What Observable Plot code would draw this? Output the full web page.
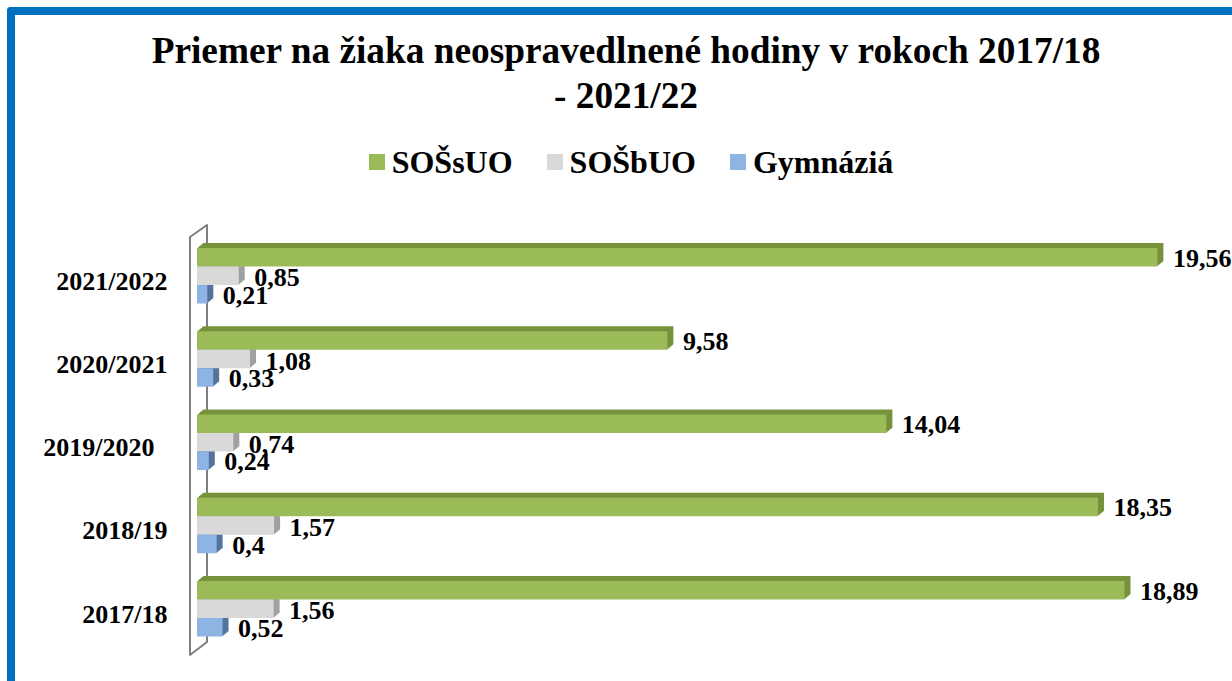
<!DOCTYPE html>
<html>
<head>
<meta charset="utf-8">
<script src="https://cdn.jsdelivr.net/npm/d3@7"></script>
<script src="https://cdn.jsdelivr.net/npm/@observablehq/plot@0.6"></script>
<style>
  html, body { margin: 0; padding: 0; background: #fff; width: 1232px; height: 681px; overflow: hidden; }
  body { position: relative; font-family: "Liberation Serif", "Times New Roman", serif; }
  #frame { position: absolute; left: 7px; top: 7px; width: 1300px; height: 720px; border-left: 8px solid #0070C0; border-top: 8px solid #0070C0; border-top-left-radius: 4px; }
  #title { position: absolute; left: 14px; width: 1224px; top: 28px; text-align: center; font-family: "Liberation Serif", "Times New Roman", serif; font-size: 37.3px; line-height: 45px; font-weight: bold; color: #000; }
  #legend { position: absolute; left: 20px; width: 1222px; top: 146px; height: 32px; display: flex; justify-content: center; align-items: center; font-family: "Liberation Serif", "Times New Roman", serif; font-size: 32px; line-height: 32px; font-weight: bold; color: #000; }
  .item { display: flex; align-items: center; margin: 0 17px; font-family: "Liberation Serif", "Times New Roman", serif; }
  .sw { width: 16px; height: 16px; margin-right: 7px; }
  #chart { position: absolute; left: 0; top: 200px; }
</style>
</head>
<body>
<div id="frame"></div>
<div id="title">Priemer na žiaka neospravedlnené hodiny v rokoch 2017/18<br>- 2021/22</div>
<div id="legend"></div>
<div id="chart"></div>
<script>
const years = ["2021/2022", "2020/2021", "2019/2020\u00a0\u00a0", "2018/19", "2017/18"];
const series = ["SOŠsUO", "SOŠbUO", "Gymnáziá"];
const sossuo = [19.56, 9.58, 14.04, 18.35, 18.89];
const sosbuo = [0.85, 1.08, 0.74, 1.57, 1.56];
const gymnazia = [0.21, 0.33, 0.24, 0.4, 0.52];

const frontColors = ["#9BBB59", "#D9D9D9", "#8DB4E2"];
const sideColors = ["#76923C", "#A0A0A0", "#55749C"];
const labelDy = [-18, 1.75, 19.25];

const valuesBySeries = [sossuo, sosbuo, gymnazia];
const rows = [];
series.forEach((s, i) => years.forEach((y, j) => rows.push({year: y, series: s, si: i, value: valuesBySeries[i][j]})));
const fmt = v => String(v).replace(".", ",");

// legend
const legend = document.getElementById("legend");
series.forEach((s, i) => {
  const it = document.createElement("div");
  it.className = "item";
  const sw = document.createElement("div");
  sw.className = "sw";
  sw.style.background = frontColors[i];
  const t = document.createElement("span");
  t.textContent = s;
  it.appendChild(sw); it.appendChild(t);
  legend.appendChild(it);
});

const W = 1232, H = 481;
const bandTop = 48, bandBottom = 436.5;
const bh = (bandBottom - bandTop) / (years.length - 1/3) * (2/3) / 3;

function wall(index, scales) {
  const x0 = scales.x(0);
  const bw = typeof scales.y.bandwidth === "function" ? scales.y.bandwidth() : scales.y.bandwidth;
  const yTop = scales.y(years[0]);
  const yBot = scales.y(years[years.length - 1]) + bw;
  const p = d3.path();
  p.moveTo(x0 - 7, yTop - 11);
  p.lineTo(x0 + 10, yTop - 23);
  p.lineTo(x0 + 10, yBot + 5.5);
  p.lineTo(x0 - 7, yBot + 18.5);
  p.closePath();
  return d3.create("svg:path").attr("d", p.toString()).attr("fill", "#fff").attr("stroke", "#7F7F7F").attr("stroke-width", 2).attr("stroke-linejoin", "round").node();
}

const marks = [wall];
// depth (3D extrusion) layers
const depthSteps = 6;
series.forEach((s, i) => {
  for (let k = depthSteps; k >= 1; k--) {
    marks.push(Plot.barX(rows.filter(d => d.si === i), {
      x: "value", y: "year", fill: sideColors[i],
      insetTop: i * bh, insetBottom: (2 - i) * bh, dx: k, dy: -k * 5 / 6
    }));
  }
});
series.forEach((s, i) => {
  marks.push(Plot.barX(rows.filter(d => d.si === i), {
    x: "value", y: "year", fill: frontColors[i],
    insetTop: i * bh, insetBottom: (2 - i) * bh
  }));
});
series.forEach((s, i) => {
  marks.push(Plot.text(rows.filter(d => d.si === i), {
    x: "value", y: "year", text: d => fmt(d.value),
    dx: 15, dy: labelDy[i], textAnchor: "start",
    fontSize: 26, fontWeight: "bold", fill: "#000"
  }));
});
marks.push(Plot.axisY({tickSize: 0, tickPadding: 30, fontSize: 26, fontWeight: "bold", dy: 5, label: null}));

const chart = Plot.plot({
  width: W, height: H,
  marginLeft: 197, marginRight: 53, marginTop: bandTop, marginBottom: H - bandBottom,
  x: {domain: [0, 20], axis: null},
  y: {domain: years, paddingInner: 1/3, paddingOuter: 0, round: false, label: null},
  style: {fontFamily: "'Liberation Serif', 'Times New Roman', serif", background: "transparent", color: "#000", overflow: "visible"},
  marks
});
document.getElementById("chart").appendChild(chart);
</script>
</body>
</html>
